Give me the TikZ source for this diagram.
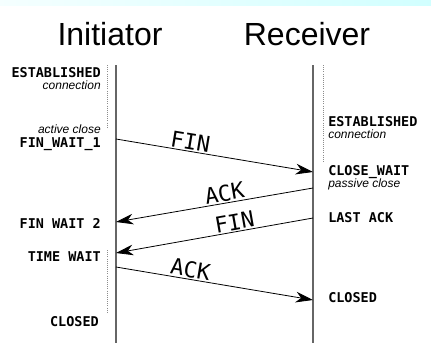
\documentclass[tikz,border=0pt]{standalone}
\usepackage{fontspec}
\setmainfont{Liberation Sans}
\setmonofont{DejaVu Sans Mono}
\usetikzlibrary{arrows.meta}

\tikzset{
  party/.style={font=\fontsize{24}{26}\selectfont, inner sep=0pt, anchor=base},
  state/.style={font=\ttfamily\bfseries\fontsize{10.1}{10}\selectfont, inner sep=0pt},
  note/.style={font=\itshape\fontsize{9}{10}\selectfont, inner sep=0pt},
  msg/.style={-{Stealth[length=13pt, width=8pt, inset=4pt]}, line width=0.6pt},
  msglabel/.style={font=\ttfamily\fontsize{16.5}{16}\selectfont, sloped, above, inner sep=1pt},
  lifeline/.style={black!60, line width=1.2pt},
  idle/.style={black!45, densely dotted, line width=0.6pt}
}

\begin{document}
\begin{tikzpicture}[x=0.75pt, y=-0.75pt]
  \useasboundingbox (0, 0) rectangle (431, 343);
  \shade[left color=cyan!4, right color=cyan!18] (0, 0) rectangle (431, 5);

  \node[party] (initiator) at (110, 45) {Initiator};
  \node[party] (receiver) at (307, 45) {Receiver};

  % lifelines
  \path (116, 65) coordinate (ini top);
  \path (116, 343) coordinate (ini bot);
  \path (313, 65) coordinate (rec top);
  \path (313, 343) coordinate (rec bot);
  \draw[lifeline] (ini top) -- (ini bot);
  \draw[lifeline] (rec top) -- (rec bot);

  \draw[idle] (107, 65) -- (107, 127);
  \draw[idle] (107, 250) -- (107, 312);
  \draw[idle] (323, 65) -- (323, 163);

  % initiator states
  \node[state, anchor=base east] (ini est) at (101, 77.5) {ESTABLISHED};
  \node[note, anchor=base east] (ini conn) at (101, 89.5) {connection};
  \node[note, anchor=base east] (ini active) at (101, 133.5) {active close};
  \node[state, anchor=base east] (fin wait 1) at (101, 147) {FIN\_WAIT\_1};
  \node[state, anchor=base east] (fin wait 2) at (101, 228) {FIN WAIT 2};
  \node[state, anchor=base east] (time wait) at (101, 261) {TIME WAIT};
  \node[state, anchor=base east] (ini closed) at (99, 326) {CLOSED};

  % receiver states
  \node[state, anchor=base west] (rec est) at (328, 126.5) {ESTABLISHED};
  \node[note, anchor=base west] (rec conn) at (328, 138.5) {connection};
  \node[state, anchor=base west] (close wait) at (328, 175) {CLOSE\_WAIT};
  \node[note, anchor=base west] (rec passive) at (328, 187.5) {passive close};
  \node[state, anchor=base west] (last ack) at (328, 222) {LAST ACK};
  \node[state, anchor=base west] (rec closed) at (328, 302) {CLOSED};

  % segments
  \path (116, 139) coordinate (fin1 out);
  \path (313, 172) coordinate (fin1 in);
  \path (313, 188) coordinate (ack1 out);
  \path (116, 222) coordinate (ack1 in);
  \path (313, 218) coordinate (fin2 out);
  \path (116, 253) coordinate (fin2 in);
  \path (116, 267) coordinate (ack2 out);
  \path (313, 300) coordinate (ack2 in);

  \draw[msg] (fin1 out) -- node[msglabel, pos=0.37] (fin1) {FIN} (fin1 in);
  \draw[msg] (ack1 out) -- node[msglabel, pos=0.44] (ack1) {ACK} (ack1 in);
  \draw[msg] (fin2 out) -- node[msglabel, pos=0.39] (fin2) {FIN} (fin2 in);
  \draw[msg] (ack2 out) -- node[msglabel, pos=0.37] (ack2) {ACK} (ack2 in);
\end{tikzpicture}
\end{document}
